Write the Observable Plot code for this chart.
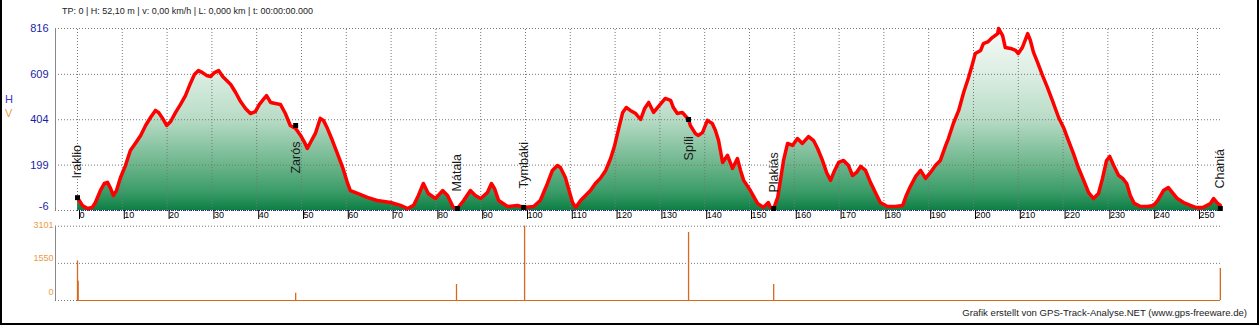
<!DOCTYPE html>
<html><head><meta charset="utf-8">
<script src="https://cdn.jsdelivr.net/npm/d3@7"></script>
<script src="https://cdn.jsdelivr.net/npm/@observablehq/plot@0.6"></script>
<style>
html,body{margin:0;padding:0;background:#fff;}
#wrap{position:relative;width:1259px;height:325px;overflow:hidden;font-family:"Liberation Sans",Arial,sans-serif;background:#fff;}
#main,#speed{position:absolute;left:0;}
#main{top:0}
#speed{top:222px}
.lbl{position:absolute;white-space:nowrap;line-height:1;}
#border{position:absolute;left:0;top:0;width:1259px;height:325px;box-sizing:border-box;border:2px solid #000;border-top:none;pointer-events:none;}
</style></head>
<body><div id="wrap">
<div id="main"></div><div id="speed"></div>
<div class="lbl" style="left:62px;top:7px;font-size:9px;color:#222">TP: 0 | H: 52,10 m | v: 0,00 km/h | L: 0,000 km | t: 00:00:00.000</div>
<div class="lbl" style="left:5px;top:94px;font-size:11px;color:#3a3acc">H</div>
<div class="lbl" style="left:5px;top:108px;font-size:11px;color:#ee9a44">V</div>
<div class="lbl" style="right:12px;top:308px;font-size:9.6px;color:#222">Grafik erstellt von GPS-Track-Analyse.NET (www.gps-freeware.de)</div>
<div id="border"></div>
</div>
<script>
// ---- data ----
const kmValues = [0,1.1,2.2,3.3,4.0,5.1,6.0,6.7,7.4,8.0,8.7,9.6,10.7,11.8,12.9,14.1,15.2,16.3,17.4,18.1,19.0,19.9,20.8,21.9,23.0,24.1,25.2,26.1,27.0,27.9,28.8,29.7,30.6,31.5,32.4,33.3,34.2,35.3,36.4,37.5,38.6,39.7,40.6,41.3,42.2,43.1,44.2,45.3,46.4,47.5,48.7,49.8,50.7,51.3,52.0,53.1,54.2,54.9,55.8,56.9,58.0,59.2,60.3,60.9,62.5,64.7,66.9,69.9,72.1,73.7,75.0,76.1,77.2,78.3,79.9,81.5,82.6,83.9,84.8,86.2,87.7,88.8,90.0,91.5,92.4,93.1,94.0,96.0,98.2,99.6,101.8,103.3,104.9,106.0,107.1,107.8,108.9,109.6,110.5,111.2,112.3,113.4,114.5,115.6,116.7,117.9,119.0,119.9,120.8,121.7,122.5,123.4,124.6,125.7,126.6,127.5,128.6,129.7,131.2,132.4,133.0,133.9,135.0,136.4,136.8,137.9,138.6,139.5,140.6,141.7,142.4,143.1,144.0,145.1,146.2,147.3,148.0,148.7,150.2,151.8,153.1,154.2,154.7,155.4,156.3,156.9,157.6,158.5,159.6,160.7,161.8,163.2,164.3,165.2,166.3,167.2,168.1,169.0,169.9,171.0,172.1,173.0,173.9,174.8,175.9,177.0,178.1,179.2,180.8,182.6,184.2,185.0,185.9,187.1,188.2,189.3,190.4,191.5,192.6,193.8,194.4,195.5,196.7,197.8,198.9,199.8,200.4,201.6,202.2,203.3,204.2,205.4,205.6,206.5,207.1,208.3,209.4,210.0,210.9,212.1,212.7,213.4,214.3,215.4,216.5,217.6,219.0,220.1,221.2,222.3,223.4,224.6,225.7,226.8,227.9,228.8,229.7,230.4,231.3,232.4,233.3,234.2,235.0,235.9,237.3,238.8,240.2,241.1,242.4,243.5,244.4,245.5,246.9,248.4,249.6,251.3,252.9,253.6,254.5,255.1];
const elevValues = [52,17,3,8,30,84,116,121,93,62,84,143,197,265,297,333,378,414,446,437,410,378,396,437,473,513,568,608,626,617,604,599,617,626,599,581,563,527,486,455,432,441,473,491,513,482,477,473,432,378,364,333,301,274,301,342,410,401,364,310,252,188,116,84,71,53,39,30,17,3,17,62,116,71,48,84,62,8,3,39,84,62,48,75,116,93,39,12,17,8,12,39,116,175,197,188,143,93,30,8,39,62,84,116,139,175,229,288,364,437,459,446,432,405,455,482,437,464,500,491,459,432,437,405,378,342,333,346,401,387,355,310,211,243,184,229,175,130,84,26,8,30,8,3,53,130,220,297,288,319,297,328,310,274,220,166,130,175,211,220,197,152,166,193,175,121,75,30,12,12,17,62,102,148,175,139,166,197,220,288,319,387,446,527,595,658,703,717,748,757,775,793,816,784,730,726,717,703,730,793,762,708,663,604,550,491,414,369,310,252,188,130,75,48,71,139,220,238,197,152,139,116,62,26,12,12,17,39,84,98,75,48,30,17,8,8,26,48,26,17];
const xTickValues = [0,10,20,30,40,50,60,70,80,90,100,110,120,130,140,150,160,170,180,190,200,210,220,230,240,250];
const elevTicks = [-6,199,404,609,816];
const speedTicks = [0,1550,3101];
const placeNames = ["Iraklio","Zarós","Mátala","Tymbáki","Spíli","Plakiás","Chaniá"];
const placeKm = [0,48.7,84.8,99.6,136.4,155.4,255.1];
const placeElev = [52,378,3,8,405,3,3];
const placeLabelElev = [139,161,80,93,220,75,93];
const speedKm = [0,0.15,48.7,84.6,99.8,136.4,155.4,255.1];
const speedValues = [1650,805,305,668,3101,2840,668,1336];

// ---- scales / styles ----
const xDomain = [-4.91, 255.36];
const yMin = -6, yMax = 816;
const endKm = kmValues[kmValues.length - 1];
const font = '"Liberation Sans", Arial, sans-serif';
const gridStyle = {stroke: "#777", strokeDasharray: "1,2"};
const orange = "#d8691c";
const plain = d => `${d}`;

const profile = kmValues.map((km, i) => ({km, elev: elevValues[i]}));
const places = placeNames.map((name, i) => ({name, km: placeKm[i], elev: placeElev[i], labelElev: placeLabelElev[i]}));
const speedData = speedKm.map((km, i) => ({km, v: speedValues[i]}));

const mainChart = Plot.plot({
  width: 1259, height: 222,
  marginLeft: 55, marginRight: 38, marginTop: 28, marginBottom: 12,
  style: {fontFamily: font, background: "transparent", overflow: "visible"},
  x: {domain: xDomain, label: null},
  y: {domain: [yMin, yMax], label: null},
  marks: [
    Plot.areaY(profile, {x: "km", y1: yMin, y2: "elev", fill: "url(#elevGrad)"}),
    Plot.ruleY(elevTicks, gridStyle),
    Plot.ruleX(xTickValues, {y1: yMin, y2: yMax, ...gridStyle}),
    Plot.ruleY([yMin], {x1: 0, x2: endKm, stroke: "#1a1a9a", strokeDasharray: "1,1"}),
    Plot.ruleX([xDomain[0]], {y1: yMin, y2: yMax, stroke: "#888"}),
    Plot.line(profile, {x: "km", y: "elev", stroke: "#ff0000", strokeWidth: 3.5, strokeLinejoin: "round"}),
    Plot.dot(places, {x: "km", y: "elev", symbol: "square", r: 2.8, fill: "#000"}),
    Plot.text(places, {x: "km", y: "labelElev", text: "name", rotate: -90, textAnchor: "start", fontSize: 12.5, fill: "#1a1a1a"}),
    Plot.axisY(elevTicks.filter(t => t !== yMin), {tickSize: 0, tickPadding: 7, fontSize: 11, fill: "#1c1ca6", label: null, tickFormat: plain}),
    Plot.axisY([yMin], {tickSize: 0, tickPadding: 7, fontSize: 11, fill: "#1c1ca6", dy: -4, label: null, tickFormat: plain}),
    Plot.axisX(xTickValues, {tickSize: 9, tickPadding: -4, lineAnchor: "middle", textAnchor: "start", dx: 2, fontSize: 9, label: null, stroke: "#000", fill: "#000", tickFormat: plain})
  ]
});

// gradient fill tied to the y scale
const ys = mainChart.scale("y");
const defs = d3.select(mainChart).insert("defs", ":first-child");
const grad = defs.append("linearGradient").attr("id", "elevGrad")
  .attr("gradientUnits", "userSpaceOnUse")
  .attr("x1", 0).attr("x2", 0)
  .attr("y1", ys.apply(yMax)).attr("y2", ys.apply(yMin));
[[0, "#f5faf6"], [0.25, "#dceee3"], [0.5, "#b8dcc6"], [0.75, "#6cb58b"], [0.9, "#3a9c68"], [1, "#0d7f44"]]
  .forEach(([o, c]) => grad.append("stop").attr("offset", o).attr("stop-color", c));

document.getElementById("main").appendChild(mainChart);

const speedChart = Plot.plot({
  width: 1259, height: 103,
  marginLeft: 55, marginRight: 38, marginTop: 3.7, marginBottom: 25,
  style: {fontFamily: font, background: "transparent", overflow: "visible"},
  x: {domain: xDomain, axis: null, label: null},
  y: {domain: [0, 3101], label: null},
  marks: [
    Plot.ruleY(speedTicks, gridStyle),
    Plot.ruleX([xDomain[0]], {y1: 0, y2: 3101, stroke: "#888"}),
    Plot.ruleY([0], {x1: 0, x2: endKm, stroke: orange}),
    Plot.ruleX(speedData, {x: "km", y1: 0, y2: "v", stroke: orange, strokeWidth: 1.3}),
    Plot.axisY([3101], {tickSize: 0, tickPadding: 2, fontSize: 9, fill: "#eb9b3f", dy: -1.5, label: null, tickFormat: plain}),
    Plot.axisY([1550], {tickSize: 0, tickPadding: 2, fontSize: 9, fill: "#eb9b3f", dy: -4.8, label: null, tickFormat: plain}),
    Plot.axisY([0], {tickSize: 0, tickPadding: 2, fontSize: 9, fill: "#eb9b3f", dy: -8.3, label: null, tickFormat: plain})
  ]
});
document.getElementById("speed").appendChild(speedChart);
</script>
</body></html>
